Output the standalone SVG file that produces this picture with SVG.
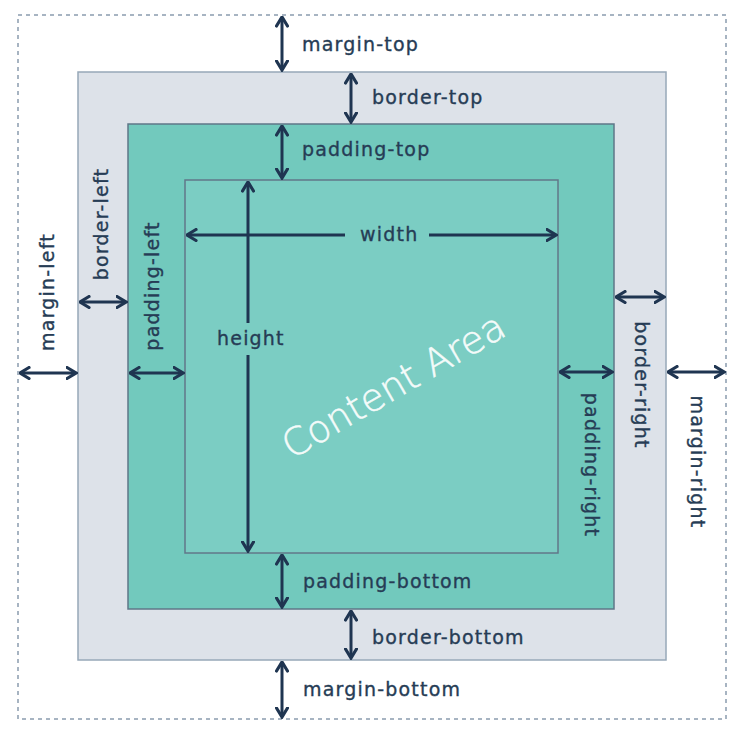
<svg xmlns="http://www.w3.org/2000/svg" width="746" height="738" viewBox="0 0 746 738">
<defs>
<marker id="ah" viewBox="0 0 12 14" refX="10.5" refY="7" markerWidth="12" markerHeight="14" markerUnits="userSpaceOnUse" orient="auto-start-reverse">
<path d="M1.5,1.5 L10.5,7 L1.5,12.5" fill="none" stroke="#1f3551" stroke-width="3.2" stroke-linejoin="miter" stroke-linecap="round"/>
</marker>
<style>
.lbl{font-family:"DejaVu Sans",Verdana,sans-serif;font-size:19px;letter-spacing:1.2px;fill:#263c55;stroke:#263c55;stroke-width:0.35px;}
.arr{stroke:#1f3551;stroke-width:3;fill:none;}
.ae{marker-start:url(#ah);marker-end:url(#ah);}
.ao{marker-end:url(#ah);}
</style>
</defs>
<rect width="746" height="738" fill="#ffffff"/>
<g id="margin-box">
<rect x="18" y="15" width="708" height="704" fill="none" stroke="#8b9caf" stroke-width="1.5" stroke-dasharray="4 4"/>
</g>
<g id="border-box">
<rect x="78" y="72" width="588" height="588" fill="#dde2e9" stroke="#97a8b8" stroke-width="1.5"/>
</g>
<g id="padding-box">
<rect x="128" y="124" width="486" height="485" fill="#72c9bd" stroke="#5f7788" stroke-width="1.5"/>
</g>
<g id="content-box">
<rect x="185" y="180" width="373" height="373" fill="#7bcdc3" stroke="#627789" stroke-width="1.5"/>
<text x="400" y="397" transform="rotate(-30 400 397)" text-anchor="middle" font-family="'DejaVu Sans',Verdana,sans-serif" font-size="38" font-weight="200" fill="#f4fbfa" stroke="#f4fbfa" stroke-width="0.5">Content Area</text>
</g>
<g id="connectors">
<line class="arr ae" x1="282" y1="17" x2="282" y2="70"/>
<line class="arr ae" x1="351" y1="74" x2="351" y2="122"/>
<line class="arr ae" x1="282" y1="126" x2="282" y2="178"/>
<line class="arr ao" x1="345" y1="235" x2="187" y2="235"/>
<line class="arr ao" x1="429" y1="235" x2="556" y2="235"/>
<line class="arr ao" x1="248" y1="323" x2="248" y2="182"/>
<line class="arr ao" x1="248" y1="355" x2="248" y2="551"/>
<line class="arr ae" x1="20" y1="373" x2="76" y2="373"/>
<line class="arr ae" x1="80" y1="302" x2="126" y2="302"/>
<line class="arr ae" x1="130" y1="373" x2="183" y2="373"/>
<line class="arr ae" x1="560" y1="372" x2="612" y2="372"/>
<line class="arr ae" x1="616" y1="297" x2="664" y2="297"/>
<line class="arr ae" x1="668" y1="372" x2="724" y2="372"/>
<line class="arr ae" x1="282" y1="555" x2="282" y2="607"/>
<line class="arr ae" x1="351" y1="611" x2="351" y2="658"/>
<line class="arr ae" x1="282" y1="662" x2="282" y2="717"/>
</g>
<g id="labels">
<text class="lbl" x="302" y="51">margin-top</text>
<text class="lbl" x="372" y="104">border-top</text>
<text class="lbl" x="302" y="156">padding-top</text>
<text class="lbl" x="360" y="241">width</text>
<text class="lbl" x="217" y="345">height</text>
<text class="lbl" x="303" y="588">padding-bottom</text>
<text class="lbl" x="372" y="644">border-bottom</text>
<text class="lbl" x="303" y="696">margin-bottom</text>
<text class="lbl" text-anchor="middle" transform="translate(54 292) rotate(-90)">margin-left</text>
<text class="lbl" text-anchor="middle" transform="translate(108 224) rotate(-90)">border-left</text>
<text class="lbl" text-anchor="middle" transform="translate(159 286) rotate(-90)">padding-left</text>
<text class="lbl" text-anchor="middle" transform="translate(585 465) rotate(90)">padding-right</text>
<text class="lbl" text-anchor="middle" transform="translate(635 385) rotate(90)">border-right</text>
<text class="lbl" text-anchor="middle" transform="translate(691 462) rotate(90)">margin-right</text>
</g>
</svg>
